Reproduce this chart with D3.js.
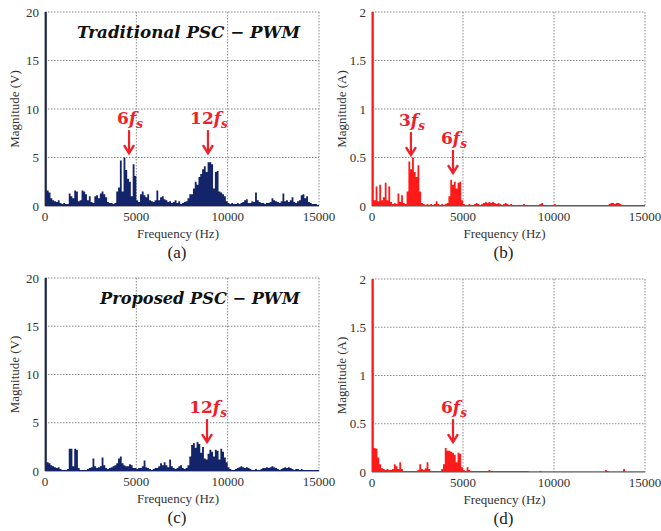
<!DOCTYPE html>
<html>
<head>
<meta charset="utf-8">
<script src="https://cdn.jsdelivr.net/npm/d3@7"></script>
<style>
  body { margin: 0; background: #fff; }
  svg { display: block; }
</style>
</head>
<body>
<svg id="fig" width="661" height="531"></svg>
<script>
// Harmonic spectra, one value per 100 Hz bin starting at 0 Hz (150 bins up to 15 kHz)
const binWidth = 100;
const freqTicks = [0, 5000, 10000, 15000];
const voltTicks = [0, 5, 10, 15, 20];
const currTicks = [0, 0.5, 1, 1.5, 2];

// (a) output voltage, traditional PSC-PWM [V]
const voltTraditional = [
  20, 1.6, 1.4, 0.8, 0.6, 0.5, 0.4, 0.6, 0.3, 0.2,
  0.3, 0.2, 0.2, 1.3, 1.0, 0.8, 1.6, 1.5, 0.5, 0.6,
  1.6, 1.5, 1.2, 0.6, 1.0, 0.4, 0.3, 1.0, 1.1, 0.8,
  1.3, 1.5, 1.2, 0.9, 0.4, 0.3, 0.3, 0.2, 0.3, 1.5,
  1.9, 4.7, 1.5, 5.0, 3.7, 2.8, 2.5, 1.0, 4.3, 3.1,
  0.6, 0.4, 1.2, 1.5, 1.1, 0.9, 1.2, 0.6, 0.5, 0.4,
  0.6, 1.6, 0.6, 0.9, 1.0, 0.7, 0.6, 0.4, 0.5, 0.3,
  0.4, 0.6, 0.3, 0.5, 0.2, 0.3, 0.4, 0.5, 0.8, 1.2,
  1.2, 1.8, 2.5, 2.2, 3.0, 3.3, 3.8, 4.1, 3.5, 4.5,
  4.5, 4.3, 1.8, 3.5, 3.6, 1.5, 1.4, 1.2, 1.0, 0.5,
  0.3, 0.2, 0.3, 0.2, 0.2, 0.3, 0.2, 0.3, 0.4, 0.6,
  0.7, 0.3, 0.3, 0.5, 0.4, 1.4, 0.6, 0.4, 0.3, 0.3,
  0.2, 0.3, 0.3, 0.4, 0.8, 0.6, 0.5, 0.4, 0.3, 0.5,
  1.3, 0.5, 0.6, 0.4, 0.6, 0.9, 0.4, 0.3, 0.5, 0.6,
  1.1, 1.2, 0.8, 1.0, 0.4, 0.3, 0.2, 0.2, 0.2, 0.1
];

// (b) grid current, traditional PSC-PWM [A]
const currTraditional = [
  2.0, 0.06, 0.2, 0.05, 0.22, 0.06, 0.09, 0.24, 0.06, 0.2,
  0.04, 0.02, 0.03, 0.02, 0.13, 0.04, 0.11, 0.03, 0.02, 0.15,
  0.46, 0.38, 0.5, 0.35, 0.3, 0.42, 0.15, 0.03, 0.02, 0.01,
  0.02, 0.01, 0.02, 0.01, 0.02, 0.05, 0.02, 0.01, 0.02, 0.01,
  0.02, 0.03, 0.1, 0.27, 0.22, 0.25, 0.18, 0.24, 0.25, 0.06,
  0.02, 0.01, 0.01, 0.02, 0.01, 0.01, 0.02, 0.03, 0.02, 0.01,
  0.02, 0.03, 0.04, 0.03, 0.04, 0.03, 0.04, 0.03, 0.02, 0.03,
  0.02, 0.01, 0.02, 0.03, 0.02, 0.01, 0.02, 0.01, 0.01, 0.01,
  0.01, 0.01, 0.01, 0.02, 0.01, 0.01, 0.01, 0.01, 0.01, 0.01,
  0.01, 0.01, 0.02, 0.03, 0.01, 0.01, 0.01, 0.01, 0.01, 0.01,
  0.02, 0.01, 0.01, 0.01, 0.01, 0.01, 0.01, 0.01, 0.01, 0.01,
  0.01, 0.01, 0.01, 0.01, 0.01, 0.01, 0.01, 0.01, 0.01, 0.01,
  0.01, 0.01, 0.01, 0.01, 0.01, 0.01, 0.01, 0.01, 0.01, 0.01,
  0.02, 0.03, 0.03, 0.02, 0.03, 0.03, 0.02, 0.01, 0.01, 0.01,
  0.01, 0.01, 0.01, 0.01, 0.01, 0.01, 0.01, 0.01, 0.01, 0.01
];

// (c) output voltage, proposed PSC-PWM [V]
const voltProposed = [
  20, 0.9, 0.8, 0.6, 0.5, 0.4, 0.3, 0.4, 0.2, 0.1,
  0.1, 0.1, 0.2, 2.3, 2.3, 0.5, 2.3, 2.2, 0.3, 0.1,
  0.1, 0.1, 0.1, 0.2, 0.3, 0.4, 1.3, 0.5, 0.3, 0.4,
  0.5, 1.4, 0.6, 0.3, 0.2, 0.3, 0.4, 0.5, 0.6, 0.8,
  1.3, 1.5, 0.8, 0.6, 0.5, 0.5, 0.7, 0.6, 0.3, 0.3,
  0.2, 0.3, 0.3, 0.5, 1.1, 0.4, 0.3, 0.2, 0.1, 0.2,
  0.3, 0.3, 0.5, 0.8, 0.6, 0.9, 0.6, 0.4, 1.2, 0.5,
  0.3, 0.2, 0.3, 0.5, 0.6, 0.3, 0.2, 0.3, 0.6, 1.5,
  2.7, 2.9, 2.4, 3.0, 2.8, 1.9, 2.5, 1.3, 1.2, 1.8,
  2.2, 2.0, 1.5, 2.2, 2.1, 1.2, 2.3, 2.0, 1.4, 0.9,
  0.4, 0.2, 0.1, 0.1, 0.2, 0.3, 0.4, 0.5, 0.4, 0.3,
  0.4, 0.3, 0.2, 0.1, 0.1, 0.2, 0.1, 0.1, 0.2, 0.3,
  0.3, 0.4, 0.3, 0.4, 0.5, 0.4, 0.3, 0.2, 0.1, 0.2,
  0.3, 0.4, 0.3, 0.4, 0.3, 0.2, 0.1, 0.2, 0.2, 0.1,
  0.2, 0.1, 0.1, 0.1, 0.1, 0.1, 0.1, 0.1, 0.1, 0.1
];

// (d) grid current, proposed PSC-PWM [A]
const currProposed = [
  2.0, 0.25, 0.24, 0.15, 0.08, 0.04, 0.03, 0.02, 0.03, 0.02,
  0.02, 0.03, 0.08, 0.06, 0.03, 0.1, 0.03, 0.01, 0.01, 0.01,
  0.01, 0.01, 0.01, 0.01, 0.01, 0.02, 0.08, 0.03, 0.02, 0.04,
  0.1, 0.03, 0.01, 0.01, 0.01, 0.01, 0.01, 0.01, 0.03, 0.08,
  0.25, 0.22, 0.22, 0.21, 0.2, 0.18, 0.1, 0.2, 0.19, 0.05,
  0.02, 0.01, 0.05, 0.02, 0.01, 0.01, 0.01, 0.01, 0.01, 0.01,
  0.01, 0.01, 0.01, 0.01, 0.02, 0.01, 0.01, 0.01, 0.01, 0.01,
  0.01, 0.01, 0.01, 0.01, 0.01, 0.01, 0.01, 0.01, 0.01, 0.01,
  0.01, 0.01, 0.01, 0.01, 0.01, 0.01, 0.005, 0.005, 0.005, 0.005,
  0.005, 0.005, 0.01, 0.005, 0.005, 0.005, 0.005, 0.005, 0.005, 0.005,
  0.005, 0.005, 0.005, 0.005, 0.005, 0.005, 0.005, 0.005, 0.005, 0.005,
  0.005, 0.005, 0.005, 0.005, 0.005, 0.005, 0.005, 0.005, 0.005, 0.005,
  0.005, 0.005, 0.005, 0.005, 0.005, 0.005, 0.005, 0.005, 0.02, 0.01,
  0.005, 0.005, 0.005, 0.005, 0.005, 0.005, 0.005, 0.005, 0.03, 0.005,
  0.005, 0.005, 0.005, 0.005, 0.005, 0.005, 0.005, 0.005, 0.005, 0.005
];

// Harmonic markers: [label multiple, frequency (Hz), arrow-tip magnitude]
const marksA = [["6", 4600, 5.45], ["12", 8920, 5.45]];
const marksB = [["3", 2140, 0.525], ["6", 4450, 0.34]];
const marksC = [["12", 8870, 3.0]];
const marksD = [["6", 4450, 0.31]];

const NAVY = "#14246a";
const RED = "#ff1a1a";
const MARK = "#f0202a";
const SERIF = "'Liberation Serif', 'Times New Roman', serif";
const MATH = "'DejaVu Serif', serif";

const svg = d3.select("#fig");

function drawPanel(p) {
  const g = svg.append("g");
  const x = d3.scaleLinear().domain([0, 15000]).range([p.left, p.right]);
  const y = d3.scaleLinear().domain([0, p.yMax]).range([p.bottom, p.top]);

  // dotted grid (also forms the top and right frame)
  g.append("g").selectAll("line.gx").data(freqTicks.slice(1)).join("line")
    .attr("x1", d => x(d)).attr("x2", d => x(d))
    .attr("y1", p.top).attr("y2", p.bottom)
    .attr("stroke", "#8a8a8a").attr("stroke-width", 1).attr("stroke-dasharray", "1.5,1.5");
  g.append("g").selectAll("line.gy").data(p.yTicks.slice(1)).join("line")
    .attr("x1", p.left).attr("x2", p.right)
    .attr("y1", d => y(d)).attr("y2", d => y(d))
    .attr("stroke", "#8a8a8a").attr("stroke-width", 1).attr("stroke-dasharray", "1.5,1.5");

  // axis lines
  g.append("line").attr("x1", p.left).attr("x2", p.left).attr("y1", p.top).attr("y2", p.bottom)
    .attr("stroke", "#555").attr("stroke-width", 1);
  g.append("line").attr("x1", p.left).attr("x2", p.right).attr("y1", p.bottom).attr("y2", p.bottom)
    .attr("stroke", "#555").attr("stroke-width", 1);

  // spectrum as stepped filled bins
  const pts = p.values.map((v, i) => [i * binWidth, Math.min(v, p.yMax)]);
  pts.push([15000, pts[pts.length - 1][1]]);
  const area = d3.area()
    .x(d => x(d[0]))
    .y0(y(0))
    .y1(d => y(d[1]))
    .curve(d3.curveStepAfter);
  g.append("path").datum(pts).attr("d", area).attr("fill", p.color).attr("stroke", "none");

  // tick labels
  g.append("g").selectAll("text").data(p.yTicks).join("text")
    .attr("x", p.left - 6).attr("y", d => y(d) + 4.5)
    .attr("text-anchor", "end")
    .attr("font-family", SERIF).attr("font-size", 13).attr("fill", "#333")
    .text(d => String(d));
  g.append("g").selectAll("text").data(freqTicks).join("text")
    .attr("x", d => x(d)).attr("y", p.bottom + 15)
    .attr("text-anchor", "middle")
    .attr("font-family", SERIF).attr("font-size", 13).attr("fill", "#333")
    .text(d => String(d));

  // axis titles
  const cx = (p.left + p.right) / 2;
  g.append("text")
    .attr("transform", `translate(${p.left - 26},${(p.top + p.bottom) / 2}) rotate(-90)`)
    .attr("text-anchor", "middle")
    .attr("font-family", SERIF).attr("font-size", 13).attr("fill", "#333")
    .text(p.yLabel);
  g.append("text")
    .attr("x", cx - 4).attr("y", p.bottom + 32)
    .attr("text-anchor", "middle")
    .attr("font-family", SERIF).attr("font-size", 13).attr("fill", "#333")
    .text("Frequency (Hz)");
  g.append("text")
    .attr("x", cx - 5).attr("y", p.bottom + 52)
    .attr("text-anchor", "middle")
    .attr("font-family", SERIF).attr("font-size", 17).attr("fill", "#222")
    .text(p.caption);

  // scheme title
  if (p.title) {
    g.append("text")
      .attr("x", p.titleX).attr("y", p.top + 26)
      .attr("font-family", MATH).attr("font-size", 17)
      .attr("font-weight", "bold").attr("font-style", "italic")
      .attr("fill", "#111")
      .attr("textLength", p.titleW).attr("lengthAdjust", "spacingAndGlyphs")
      .text(p.title);
  }

  // harmonic markers: label above a downward arrow
  p.marks.forEach(([mult, f, tip]) => {
    const ax = x(f), ty = y(tip);
    const topY = ty - 23;
    g.append("line").attr("x1", ax).attr("x2", ax).attr("y1", topY).attr("y2", ty - 1)
      .attr("stroke", MARK).attr("stroke-width", 2.2);
    g.append("path")
      .attr("d", `M${ax - 5},${ty - 8} L${ax},${ty} L${ax + 5},${ty - 8}`)
      .attr("fill", "none").attr("stroke", MARK).attr("stroke-width", 2.4)
      .attr("stroke-linejoin", "miter");
    const t = g.append("text")
      .attr("x", ax + 1).attr("y", topY - 6)
      .attr("text-anchor", "middle")
      .attr("font-family", MATH).attr("font-size", 17).attr("font-weight", "bold")
      .attr("fill", MARK);
    t.append("tspan").text(mult);
    t.append("tspan").attr("font-style", "italic").text("f");
    t.append("tspan").attr("font-style", "italic").attr("font-size", 12).attr("dy", 4).text("s");
  });
}

drawPanel({ left: 45, right: 319, top: 12, bottom: 206, yMax: 20, yTicks: voltTicks,
  values: voltTraditional, color: NAVY, yLabel: "Magnitude (V)", caption: "(a)",
  title: "Traditional PSC \u2212 PWM", titleX: 77, titleW: 223, marks: marksA });
drawPanel({ left: 372, right: 645, top: 12, bottom: 206, yMax: 2, yTicks: currTicks,
  values: currTraditional, color: RED, yLabel: "Magnitude (A)", caption: "(b)",
  marks: marksB });
drawPanel({ left: 45, right: 319, top: 278, bottom: 471, yMax: 20, yTicks: voltTicks,
  values: voltProposed, color: NAVY, yLabel: "Magnitude (V)", caption: "(c)",
  title: "Proposed PSC \u2212 PWM", titleX: 100, titleW: 200, marks: marksC });
drawPanel({ left: 372, right: 645, top: 279, bottom: 472, yMax: 2, yTicks: currTicks,
  values: currProposed, color: RED, yLabel: "Magnitude (A)", caption: "(d)",
  marks: marksD });
</script>
</body>
</html>
